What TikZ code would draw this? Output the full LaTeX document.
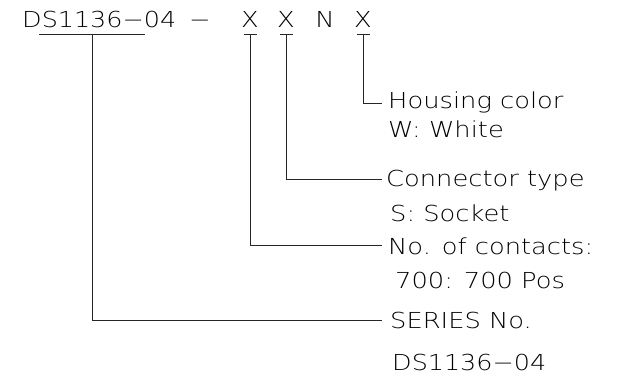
\documentclass[tikz,border=0pt]{standalone}
\usepackage{fontspec}
\usepackage{graphicx}
\setmainfont[FakeStretch=1.17]{DejaVu Sans ExtraLight}
\newcommand{\codewide}[1]{\resizebox{154pt}{\height}{#1}}
\begin{document}
\begin{tikzpicture}[x=1pt,y=-1pt,
  txt/.style={inner sep=0pt, font=\fontsize{22}{26}\selectfont},
  lbl/.style={txt, anchor=base west},
  ch/.style={txt, anchor=base},
  leader/.style={line width=0.9pt, black!85}]
\useasboundingbox (0,0) rectangle (618,374);
% top code
\node[lbl] (code) at (22,28) {\codewide{DS1136−04}};
\node[ch] (dash) at (200,28) {−};
\node[ch] (x1) at (250,28) {X};
\node[ch] (x2) at (286,28) {X};
\node[ch] (nn) at (325,28) {N};
\node[ch] (x4) at (363,28) {X};
% labels
\node[lbl] (hous) at (388,109) {Housing color};
\node[lbl] (white) at (388,138) {W: White};
\node[lbl] (conn) at (386,187) {Connector type};
\node[lbl] (sock) at (390,221) {S: Socket};
\node[lbl] (cont) at (388,254) {No. of contacts:};
\node[lbl] (pos) at (395,288) {700: 700 Pos};
\node[lbl] (series) at (390,328) {SERIES No.};
\node[lbl] (dsno) at (392,370) {\codewide{DS1136−04}};
% connector anchors
\coordinate (u) at (92,34);
\coordinate (t1) at (250,34);
\coordinate (t2) at (286,34);
\coordinate (t4) at (363,34);
\coordinate (e4) at (382,103);
\coordinate (e2) at (382,179);
\coordinate (e1) at (382,245);
\coordinate (es) at (382,320);
% underline and T bars
\draw[leader] (39,34) -- (145,34);
\foreach \t in {t1,t2,t4}{
  \draw[leader] ([xshift=-6.5pt]\t) -- ([xshift=6.5pt]\t);
}
\draw[leader] (t4) |- (e4);
\draw[leader] (t2) |- (e2);
\draw[leader] (t1) |- (e1);
\draw[leader] (u) |- (es);
\end{tikzpicture}
\end{document}
